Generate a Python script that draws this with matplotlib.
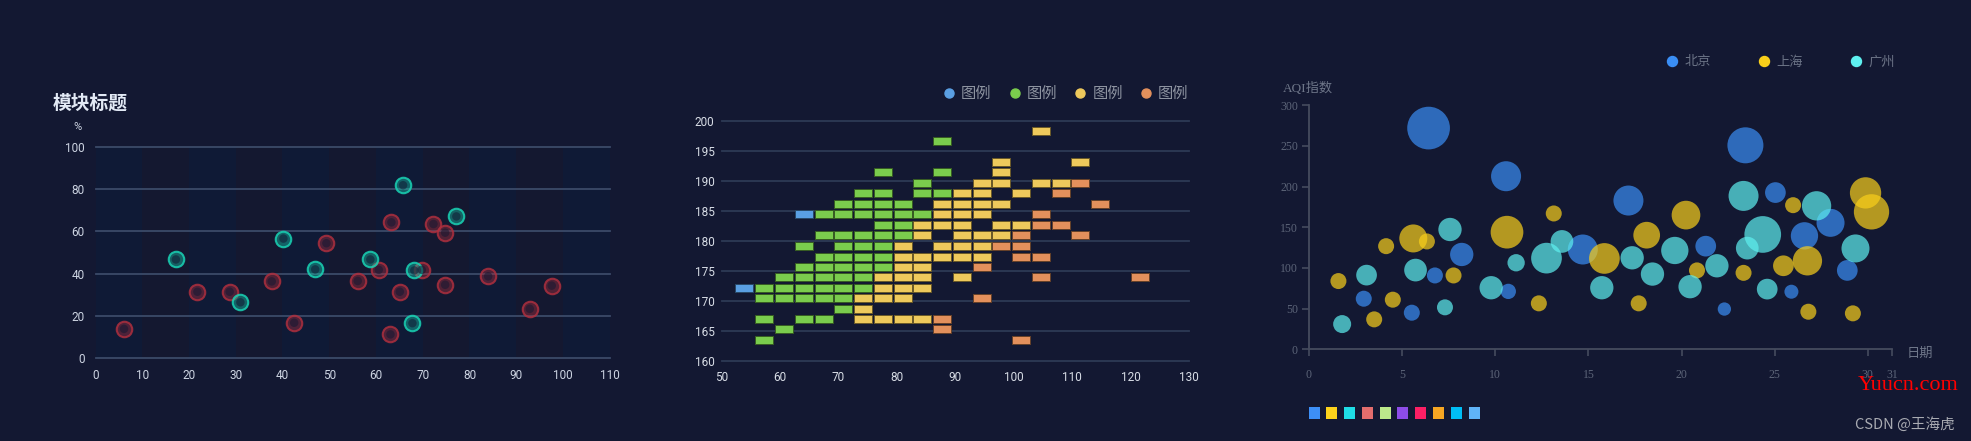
import matplotlib
matplotlib.use("Agg")
import matplotlib.pyplot as plt
from matplotlib.colors import to_rgba
from matplotlib.lines import Line2D

W, H = 1971, 441
BG = "#131832"
CJK = ["Noto Sans CJK SC", "DejaVu Sans"]

# ---------------- panel 1: ring scatter ----------------
red_x = [6.1, 21.8, 28.7, 37.7, 42.5, 49.4, 56.1, 60.6, 63.3, 63.1, 65.1, 69.8,
         72.3, 74.8, 74.8, 84.0, 92.9, 97.6]
red_y = [13.8, 31.4, 31.4, 36.3, 16.7, 54.4, 36.5, 41.8, 64.3, 11.2, 31.4, 41.8,
         63.5, 59.4, 34.7, 38.7, 23.3, 34.3]
cyan_x = [17.2, 31.0, 40.2, 47.0, 58.8, 65.8, 68.2, 67.8, 77.2]
cyan_y = [46.7, 26.4, 56.6, 42.0, 46.7, 81.9, 41.5, 16.5, 67.1]

# ---------------- panel 2: weight / height cells ----------------
# height row -> weights in that row
blue_rows = {184.4: [64.1], 172.2: [53.9]}
green_rows = {
    196.6: [87.7],
    191.4: [77.6, 87.7],
    189.7: [84.3],
    187.9: [74.2, 77.6, 84.3, 87.7],
    186.2: [70.8, 74.2, 77.6, 81.0],
    184.4: [67.5, 70.8, 74.2, 77.6, 81.0, 84.3],
    182.7: [77.6, 81.0],
    180.9: [67.5, 70.8, 74.2, 77.6, 81.0],
    179.2: [64.1, 70.8, 74.2, 77.6],
    177.4: [67.5, 70.8, 74.2, 77.6],
    175.7: [64.1, 67.5, 70.8, 74.2, 77.6],
    174.0: [60.7, 64.1, 67.5, 70.8, 74.2],
    172.2: [57.3, 60.7, 64.1, 67.5, 70.8, 74.2],
    170.5: [57.3, 60.7, 64.1, 67.5, 70.8],
    168.7: [70.8],
    167.0: [57.3, 64.1, 67.5],
    165.3: [60.7],
    163.5: [57.3],
}
yellow_rows = {
    198.3: [104.7],
    193.1: [97.9, 111.4],
    191.4: [97.9],
    189.7: [94.5, 97.9, 104.7, 108.1],
    187.9: [91.1, 94.5, 101.3],
    186.2: [87.7, 91.1, 94.5, 97.9],
    184.4: [87.7, 91.1, 94.5],
    182.7: [84.3, 87.7, 91.1, 97.9, 101.3],
    180.9: [84.3, 91.1, 94.5, 97.9],
    179.2: [81.0, 87.7, 91.1, 94.5],
    177.4: [81.0, 84.3, 87.7, 91.1, 94.5],
    175.7: [81.0, 84.3],
    174.0: [77.6, 81.0, 84.3, 91.1],
    172.2: [77.6, 81.0, 84.3],
    170.5: [74.2, 77.6, 81.0],
    168.7: [74.2],
    167.0: [74.2, 77.6, 81.0, 84.3],
}
orange_rows = {
    189.7: [111.4],
    187.9: [108.1],
    186.2: [114.8],
    184.4: [104.7],
    182.7: [104.7, 108.1],
    180.9: [101.3, 111.4],
    179.2: [97.9, 101.3],
    177.4: [101.3, 104.7],
    175.7: [94.5],
    174.0: [104.7, 121.6],
    170.5: [94.5],
    167.0: [87.7],
    165.3: [87.7],
    163.5: [101.3],
}

# ---------------- panel 3: AQI bubbles ----------------
bj_day = [6.42, 10.58, 17.15, 23.43, 25.04, 2.94, 5.52, 6.76, 8.2, 10.7, 14.7,
          21.3, 22.3, 25.9, 26.6, 28.0, 28.9]
bj_aqi = [272, 212.8, 182.9, 250.8, 192.7, 62.2, 45, 90.8, 116.6, 71.2, 122.7,
          126.8, 49.5, 70.8, 139.5, 155.5, 97]
bj_pm = [42.7, 30, 30, 36, 20.7, 16, 16, 16, 23.3, 15.3, 30, 20.7, 13.3, 14,
         27.3, 28, 20.7]

sh_day = [1.58, 3.5, 4.14, 4.5, 5.6, 6.33, 7.76, 10.63, 12.34, 13.14, 15.86,
          17.7, 18.13, 20.24, 20.83, 23.33, 25.47, 25.99, 26.76, 26.81, 29.2,
          29.88, 30.2]
sh_aqi = [83.9, 36.8, 126.8, 61, 136.3, 132.6, 90.8, 144, 56.5, 167, 111.7,
          56.5, 140.3, 165, 97, 94, 102.7, 177.2, 108.8, 46.2, 44.2, 192.3, 169]
sh_pm = [16, 16, 16, 16, 28, 16, 16, 32.7, 16, 16, 30.7, 16, 26.7, 28.7, 16,
         16, 20.7, 16, 29.3, 16, 16, 31.3, 35.3]

gz_day = [1.78, 3.09, 5.72, 7.57, 7.3, 9.78, 11.12, 12.75, 13.58, 15.72, 17.35,
          18.44, 19.64, 20.46, 21.9, 23.33, 24.36, 23.53, 24.6, 27.25, 29.34]
gz_aqi = [31, 91.2, 97.4, 147.3, 51.6, 75.7, 106.4, 112.1, 132.6, 75.7, 112.5,
          92.5, 121.5, 77, 102.7, 188.6, 141.2, 124.4, 74, 176.4, 124]
gz_pm = [18, 20.7, 22.7, 23.3, 16, 23.3, 17.3, 30.7, 22.7, 23.3, 23.3, 23.3,
         27.3, 23.3, 23.3, 30, 36.7, 22.7, 20.7, 29.3, 28]

palette = ["#3d8ff7", "#fdd21c", "#1fdde6", "#e36d6d", "#bce98b",
           "#8d4ce8", "#fc1f65", "#f6a623", "#00bdf5", "#60b4f8"]


def px(v):
    return v * 72 / 100


def box(x0, y_top, x1, y_bot):
    return [x0 / W, 1 - y_bot / H, (x1 - x0) / W, (y_bot - y_top) / H]


def rows_to_xy(rows):
    xs, ys = [], []
    for h, weights in rows.items():
        for w in weights:
            xs.append(w)
            ys.append(h)
    return xs, ys


def darker(c, f=0.45):
    r, g, b, _ = to_rgba(c)
    return (r * f, g * f, b * f, 1)


plt.rcParams["font.family"] = ["Roboto", "DejaVu Sans"]
fig = plt.figure(figsize=(W / 100, H / 100), dpi=100, facecolor=BG)

# ---------- panel 1 ----------
ax1 = fig.add_axes(box(95.5, 147, 609.7, 358))
ax1.set_facecolor(BG)
ax1.set_xlim(0, 110)
ax1.set_ylim(0, 100)
for i, x0 in enumerate(range(0, 110, 10)):
    ax1.axvspan(x0, x0 + 10, color="#0f1a36" if i % 2 == 0 else "#141830",
                lw=0, zorder=0)
for y in range(0, 101, 20):
    ax1.axhline(y, color="#3b4a68", lw=1.3, zorder=1, clip_on=False)
for xs, ys, col in [(red_x, red_y, "#ad2f3e"), (cyan_x, cyan_y, "#19d3b4")]:
    ax1.scatter(xs, ys, s=px(15.5) ** 2, facecolor=to_rgba(col, 0.4),
                edgecolor=to_rgba(col, 0.85), linewidth=1.5, zorder=3)
    ax1.scatter(xs, ys, s=px(8.5) ** 2, facecolor=to_rgba(BG, 0.55),
                edgecolor="none", zorder=4)
ax1.set_xticks(range(0, 111, 10))
ax1.set_yticks(range(0, 101, 20))
ax1.tick_params(length=0, colors="#cdd4e2", labelsize=8.5)
ax1.tick_params(axis="x", pad=8)
ax1.tick_params(axis="y", pad=8)
for s in ax1.spines.values():
    s.set_visible(False)
fig.text(52.8 / W, 1 - 103 / H, "模块标题", family=CJK, fontsize=13.5,
         color="#e2e9f5", ha="left", va="center", fontweight="semibold")
fig.text(78 / W, 1 - 127 / H, "%", fontsize=8, color="#cdd4e2",
         ha="center", va="center")

# ---------- panel 2 ----------
ax2 = fig.add_axes(box(721.5, 120.7, 1189, 361.1))
ax2.set_facecolor(BG)
ax2.set_xlim(50, 130)
ax2.set_ylim(160, 200)
for y in range(160, 201, 5):
    ax2.axhline(y, color="#2d3a55", lw=1.3, zorder=1, clip_on=False)
rect = [(-1, -0.49), (1, -0.49), (1, 0.49), (-1, 0.49), (-1, -0.49)]
series2 = [(blue_rows, "#5a9fe3"), (green_rows, "#7acc4d"),
           (yellow_rows, "#eec95c"), (orange_rows, "#e3905c")]
for rows, col in series2:
    xs, ys = rows_to_xy(rows)
    ax2.scatter(xs, ys, marker=rect, s=px(18.3) ** 2, color=col,
                edgecolor=darker(col), linewidth=0.7, zorder=3)
ax2.set_xticks(range(50, 131, 10))
ax2.set_yticks(range(160, 201, 5))
ax2.tick_params(length=0, colors="#d8dde6", labelsize=8.5)
ax2.tick_params(axis="x", pad=7)
ax2.tick_params(axis="y", pad=5)
for s in ax2.spines.values():
    s.set_visible(False)
h2 = [Line2D([], [], ls="none", marker="o", ms=6.5, color=c) for _, c in series2]
fig.legend(h2, ["图例"] * 4, loc="center left", ncol=4, frameon=False,
           bbox_to_anchor=(942 / W, 1 - 93.5 / H), prop={"family": CJK, "size": 11},
           labelcolor="#8d93a0", handlelength=0.9, handletextpad=0.35,
           columnspacing=1.05, borderpad=0, borderaxespad=0)

# ---------- panel 3 ----------
ax3 = fig.add_axes(box(1309, 105.3, 1892, 349.3))
ax3.set_facecolor(BG)
ax3.set_xlim(0, 31.3)
ax3.set_ylim(0, 300)
series3 = [(bj_day, bj_aqi, bj_pm, "#3a8ef5", "北京"),
           (sh_day, sh_aqi, sh_pm, "#f9cf1a", "上海"),
           (gz_day, gz_aqi, gz_pm, "#5ef0f0", "广州")]
for xs, ys, pm, col, name in series3:
    ax3.scatter(xs, ys, s=[px(d) ** 2 for d in pm], color=col, alpha=0.7,
                edgecolor="none", zorder=3, clip_on=False)
ax3.set_xticks(list(range(0, 31, 5)) + [31.3])
ax3.set_xticklabels([str(v) for v in range(0, 31, 5)] + ["31"])
ax3.set_yticks(range(0, 301, 50))
for side in ["top", "right"]:
    ax3.spines[side].set_visible(False)
for side in ["left", "bottom"]:
    ax3.spines[side].set_color("#454b5e")
    ax3.spines[side].set_linewidth(1.3)
ax3.tick_params(direction="out", length=5, width=1.2, color="#454b5e",
                labelcolor="#5c6478", labelsize=8.5)
ax3.tick_params(axis="x", pad=9)
ax3.tick_params(axis="y", pad=3)
for lab in ax3.get_xticklabels() + ax3.get_yticklabels():
    lab.set_family("Liberation Serif")
fig.text(1283 / W, 1 - 88 / H, "AQI指数", family=["Liberation Serif", "Noto Sans CJK SC"],
         fontsize=9.5, color="#6e7689", ha="left", va="center")
fig.text(1907 / W, 1 - 353 / H, "日期", family=CJK, fontsize=9.5,
         color="#6e7689", ha="left", va="center")
h3 = [Line2D([], [], ls="none", marker="o", ms=7.2, color=c) for *_, c, _ in series3]
fig.legend(h3, [n for *_, n in series3], loc="center left", ncol=3, frameon=False,
           bbox_to_anchor=(1665.5 / W, 1 - 62 / H), prop={"family": CJK, "size": 9.5},
           labelcolor="#6a7285", handlelength=1.0, handletextpad=0.45,
           columnspacing=3.5, borderpad=0, borderaxespad=0)

# colour swatches under panel 3
axp = fig.add_axes(box(1308.6, 407, 1479.6, 418.5))
axp.bar(range(len(palette)), 1, width=0.62, color=palette)
axp.set_xlim(-0.31, len(palette) - 0.69)
axp.set_ylim(0, 1)
axp.axis("off")

fig.text(1858 / W, 1 - 386 / H, "Yuucn.com", family="Liberation Serif",
         fontsize=16, color="#ff0000", ha="left", va="center")
fig.text(1855 / W, 1 - 424 / H, "CSDN @王海虎", family=CJK, fontsize=10.5,
         color="#a9abb2", ha="left", va="center")

fig.savefig("out.png", dpi=100, facecolor=BG)
